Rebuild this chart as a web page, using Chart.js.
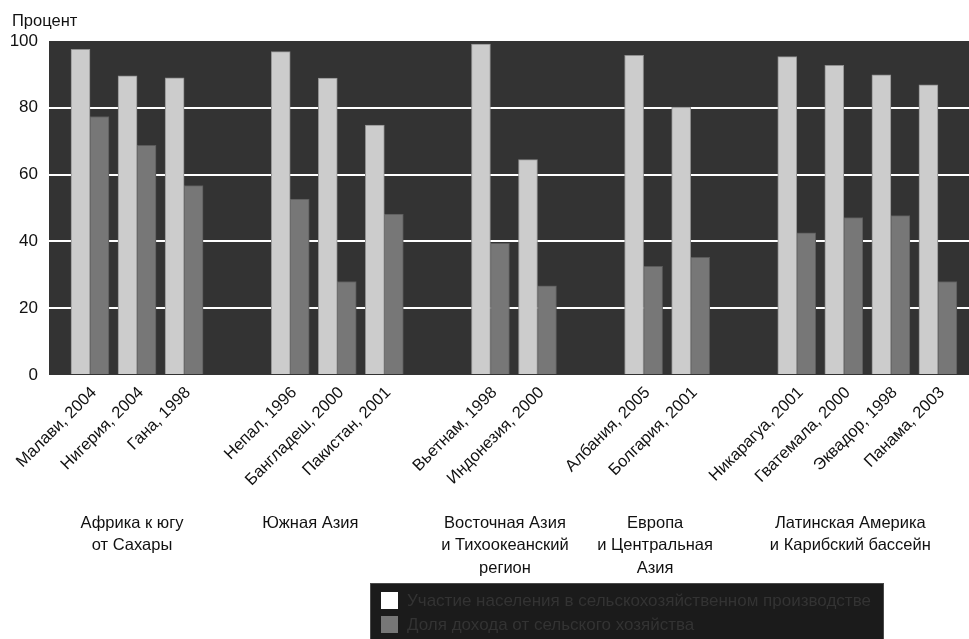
<!DOCTYPE html>
<html>
<head>
<meta charset="utf-8">
<script src="https://cdn.jsdelivr.net/npm/chart.js@4.4.1/dist/chart.umd.min.js"></script>
<style>
  html, body { margin: 0; padding: 0; background: #ffffff; }
  #wrap { width: 969px; height: 639px; position: relative; }
</style>
</head>
<body>
<div id="wrap"><canvas id="c" width="969" height="639"></canvas></div>
<script>
// ---- data ----
const countries = ['Малави, 2004', 'Нигерия, 2004', 'Гана, 1998', 'Непал, 1996', 'Бангладеш, 2000', 'Пакистан, 2001',
  'Вьетнам, 1998', 'Индонезия, 2000', 'Албания, 2005', 'Болгария, 2001', 'Никарагуа, 2001', 'Гватемала, 2000',
  'Эквадор, 1998', 'Панама, 2003'];
const countryGroup = [0, 0, 0, 1, 1, 1, 2, 2, 3, 3, 4, 4, 4, 4];
const groupLabels = [
  ['Африка к югу', 'от Сахары'],
  ['Южная Азия'],
  ['Восточная Азия', 'и Тихоокеанский', 'регион'],
  ['Европа', 'и Центральная', 'Азия'],
  ['Латинская Америка', 'и Карибский бассейн']
];
const participation = [97.5, 89.6, 89.0, 96.8, 88.9, 74.8, 99.1, 64.5, 95.7, 80.2, 95.3, 92.7, 89.9, 86.9];
const incomeShare = [77.4, 68.8, 56.7, 52.7, 28.0, 48.2, 39.4, 26.7, 32.5, 35.2, 42.6, 47.1, 47.7, 28.0];
const yTickValues = [0, 20, 40, 60, 80, 100];
const seriesNames = ['Участие населения в сельскохозяйственном производстве', 'Доля дохода от сельского хозяйства'];
const yAxisTitle = 'Процент';

// ---- layout / style ----
const GROUP_GAP = 1.255;           // extra spacing (in category units) between region groups
const groupLabelShift = [-5, -27, -9, -12, -17]; // px adjustment of region captions
const FONT = '"Liberation Sans", Arial, sans-serif';
const positions = countries.map((c, i) => i + countryGroup[i] * GROUP_GAP);

const bgPlugin = {
  id: 'plotBg',
  beforeDraw(chart) {
    const { ctx, chartArea: a } = chart;
    ctx.save();
    ctx.fillStyle = '#333333';
    ctx.fillRect(a.left, a.top, a.right - a.left, a.bottom - a.top);
    ctx.restore();
  }
};

const extrasPlugin = {
  id: 'extras',
  afterDraw(chart) {
    const { ctx } = chart;
    const xs = chart.scales.x;
    ctx.save();
    // y-axis caption
    ctx.fillStyle = '#111';
    ctx.font = '16.5px ' + FONT;
    ctx.textAlign = 'left';
    ctx.textBaseline = 'middle';
    ctx.fillText(yAxisTitle, 12, 21);
    // region captions
    ctx.textAlign = 'center';
    groupLabels.forEach((lines, g) => {
      const idx = countryGroup.map((v, i) => v === g ? i : -1).filter(i => i >= 0);
      const px = idx.map(i => xs.getPixelForValue(positions[i]));
      const cx = (Math.min(...px) + Math.max(...px)) / 2 + groupLabelShift[g];
      lines.forEach((t, k) => ctx.fillText(t, cx, 523 + k * 22.5));
    });
    // legend
    const lx = 370, ly = 583, lw = 514, lh = 70;
    ctx.fillStyle = '#1b1b1b';
    ctx.fillRect(lx, ly, lw, lh);
    ctx.strokeStyle = '#4a4a4a';
    ctx.lineWidth = 1;
    ctx.strokeRect(lx + 0.5, ly + 0.5, lw - 1, lh);
    const sw = ['#ffffff', '#777777'];
    ctx.font = '17px ' + FONT;
    ctx.textAlign = 'left';
    chart.data.datasets.forEach((ds, k) => {
      const cy = 600 + k * 24;
      ctx.fillStyle = sw[k];
      ctx.fillRect(381, cy - 8, 17, 17);
      ctx.fillStyle = '#333333';
      ctx.fillText(ds.label, 407, cy + 1);
    });
    ctx.restore();
  }
};

new Chart(document.getElementById('c'), {
  type: 'bar',
  data: {
    datasets: [
      {
        label: seriesNames[0],
        data: participation.map((v, i) => ({ x: positions[i], y: v })),
        backgroundColor: '#cccccc',
        borderColor: '#8f8f8f',
        borderWidth: 1,
        barThickness: 19
      },
      {
        label: seriesNames[1],
        data: incomeShare.map((v, i) => ({ x: positions[i], y: v })),
        backgroundColor: '#777777',
        borderColor: '#5a5a5a',
        borderWidth: 1,
        barThickness: 19
      }
    ]
  },
  options: {
    responsive: false,
    animation: false,
    devicePixelRatio: 1,
    layout: { padding: { top: 41, left: 0, right: 0, bottom: 0 } },
    plugins: { legend: { display: false }, tooltip: { enabled: false } },
    scales: {
      x: {
        type: 'linear',
        offset: false,
        bounds: 'ticks',
        min: -0.871,
        max: 18.68,
        grid: { display: false, offset: false },
        border: { display: false },
        afterBuildTicks(scale) { scale.ticks = positions.map(v => ({ value: v })); },
        afterFit(scale) { scale.height = 639 - 375; scale.paddingLeft = 0; scale.paddingRight = 0; },
        ticks: {
          autoSkip: false,
          minRotation: 45,
          maxRotation: 45,
          padding: 0,
          labelOffset: 4,
          color: '#111',
          font: { family: FONT, size: 16.5 },
          callback: (v, i) => countries[i]
        }
      },
      y: {
        min: 0,
        max: 100,
        afterBuildTicks(scale) { scale.ticks = yTickValues.map(v => ({ value: v })); },
        afterFit(scale) { scale.width = 49; },
        border: { display: false },
        grid: {
          drawTicks: false,
          lineWidth: 2,
          color: ctx => (ctx.tick && (ctx.tick.value === 0 || ctx.tick.value === 100)) ? 'rgba(0,0,0,0)' : '#ffffff'
        },
        ticks: {
          padding: 11,
          color: '#111',
          font: { family: FONT, size: 17 }
        }
      }
    }
  },
  plugins: [bgPlugin, extrasPlugin]
});
</script>
</body>
</html>
